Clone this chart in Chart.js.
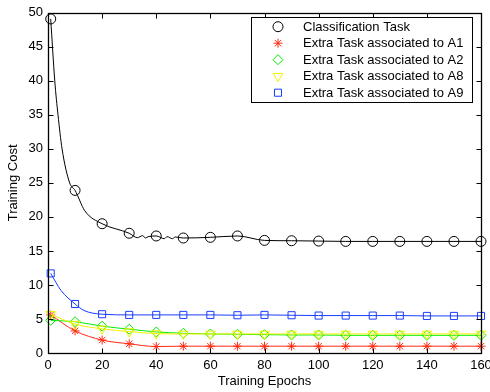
<!DOCTYPE html>
<html>
<head>
<meta charset="utf-8">
<script src="https://cdn.jsdelivr.net/npm/chart.js@4"></script>
<style>
html,body{margin:0;padding:0;background:#fff;}
#wrap{width:490px;height:392px;}
</style>
</head>
<body>
<div id="wrap"><canvas id="myChart"></canvas></div>
<script>
// marker epochs
const epochs=[1,10,20,30,40,50,60,70,80,90,100,110,120,130,140,150,160];
const classCost=[49.1,23.9,19.0,17.6,17.2,16.9,17.0,17.2,16.55,16.5,16.45,16.4,16.4,16.4,16.4,16.4,16.4];
const a1Cost=[5.6,3.25,1.9,1.35,0.95,1.0,1.0,1.0,1.0,1.0,1.0,1.0,1.0,1.0,1.0,1.0,1.0];
const a2Cost=[4.8,4.6,3.95,3.5,3.1,2.9,2.8,2.75,2.7,2.65,2.65,2.6,2.6,2.6,2.6,2.6,2.6];
const a8Cost=[5.7,4.25,3.55,3.15,2.85,2.8,2.8,2.8,2.8,2.8,2.8,2.8,2.8,2.8,2.8,2.8,2.8];
const a9Cost=[11.7,7.2,5.7,5.6,5.6,5.6,5.6,5.55,5.6,5.55,5.5,5.5,5.5,5.5,5.45,5.45,5.45];
// unmarked points of the curves read between markers
const classExtraEpochs=[2.5,3.7,5.2,8,13.6,33,35,36,37,43,44,46,47];
const classExtraCost=[40,35,30,25,20.9,16.95,17.25,16.9,17.1,16.8,17.1,16.8,17.05];
const a9ExtraEpochs=[4.8,13.3];
const a9ExtraCost=[9.2,6.25];

const xTicks={min:0,max:160,step:20};
const yTicks={min:0,max:50,step:5};

function pts(vals,extraX,extraY){
    let p=epochs.map(function(e,i){return {x:e,y:vals[i]};});
    if(extraX){
        p=p.concat(extraX.map(function(e,i){return {x:e,y:extraY[i]};}));
    }
    return p.sort(function(a,b){return a.x-b.x;});
}
function isMarker(x){return x===1 || x%10===0;}

const FONT='"Liberation Sans", Arial, Helvetica, sans-serif';

const series=[
    {label:'Classification Task',data:pts(classCost,classExtraEpochs,classExtraCost),color:'#000000',style:'circle',r:5,rot:0,order:5},
    {label:'Extra Task associated to A1',data:pts(a1Cost),color:'#ff2a10',style:'star',r:4.5,rot:0,order:4},
    {label:'Extra Task associated to A2',data:pts(a2Cost),color:'#00ee00',style:'rectRot',r:5,rot:0,order:3},
    {label:'Extra Task associated to A8',data:pts(a8Cost),color:'#f2f200',style:'triangle',r:5.5,rot:180,order:2},
    {label:'Extra Task associated to A9',data:pts(a9Cost,a9ExtraEpochs,a9ExtraCost),color:'#1a3cff',style:'rect',r:5,rot:0,order:1}
];

const frame={
    id:'frame',
    afterDatasetsDraw:function(chart){
        const c=chart.ctx, a=chart.chartArea;
        const xs=chart.scales.x, ys=chart.scales.y;
        const L=Math.round(a.left)+0.5, R=Math.round(a.right)+0.5, T=Math.round(a.top)+0.5, B=Math.round(a.bottom)+0.5;
        c.save();
        c.strokeStyle='#000';
        c.lineWidth=1;
        c.beginPath();
        xs.ticks.forEach(function(t){
            const px=Math.round(xs.getPixelForValue(t.value))+0.5;
            c.moveTo(px,B);c.lineTo(px,B-5);
            c.moveTo(px,T);c.lineTo(px,T+5);
        });
        ys.ticks.forEach(function(t){
            const py=Math.round(ys.getPixelForValue(t.value))+0.5;
            c.moveTo(L,py);c.lineTo(L+5,py);
            c.moveTo(R,py);c.lineTo(R-5,py);
        });
        c.stroke();
        c.lineWidth=1.3;
        c.strokeRect(L,T,R-L,B-T);
        c.restore();
    },
    afterDraw:function(chart){
        const c=chart.ctx;
        c.save();
        c.fillStyle='#fff';
        c.fillRect(251.5,17.5,221,85);
        c.strokeStyle='#000';
        c.lineWidth=1;
        c.strokeRect(251.5,17.5,221,85);
        c.font='13px '+FONT;
        c.textBaseline='middle';
        series.forEach(function(s,i){
            const y=26.7+i*16.5;
            c.strokeStyle=s.color;
            c.fillStyle='rgba(0,0,0,0)';
            c.lineWidth=1;
            Chart.helpers.drawPoint(c,{pointStyle:s.style,radius:s.r,rotation:s.rot,borderWidth:1},278,y);
            c.fillStyle='#000';
            c.fillText(s.label,303,y+0.5);
        });
        c.restore();
    }
};

const ctx=document.getElementById('myChart').getContext('2d');
window.myChart=new Chart(ctx,{
    type:'line',
    data:{
        datasets:series.map(function(s){
            return {
                label:s.label,
                data:s.data,
                order:s.order,
                borderColor:s.color,
                backgroundColor:'rgba(0,0,0,0)',
                pointBorderColor:s.color,
                pointBackgroundColor:'rgba(0,0,0,0)',
                pointStyle:s.style,
                pointRotation:s.rot,
                pointBorderWidth:1,
                pointRadius:function(c){return c.raw && isMarker(c.raw.x)?s.r:0;},
                pointHoverRadius:function(c){return c.raw && isMarker(c.raw.x)?s.r:0;},
                borderWidth:1,
                cubicInterpolationMode:'monotone',
                fill:false,
                clip:false
            };
        })
    },
    options:{
        responsive:true,
        maintainAspectRatio:false,
        animation:false,
        events:[],
        layout:{padding:{left:0,right:9,top:10,bottom:0}},
        plugins:{legend:{display:false},tooltip:{enabled:false}},
        scales:{
            x:{
                type:'linear',
                min:xTicks.min,max:xTicks.max,
                grid:{display:false,drawTicks:false,tickLength:0},
                border:{display:false},
                ticks:{stepSize:xTicks.step,color:'#000',font:{family:FONT,size:13},padding:5,maxRotation:0},
                title:{display:true,text:'Training Epochs',color:'#000',font:{family:FONT,size:13},padding:{top:0,bottom:3}},
                afterFit:function(s){s.height=39;s.paddingLeft=0;s.paddingRight=0;}
            },
            y:{
                min:yTicks.min,max:yTicks.max,
                grid:{display:false,drawTicks:false,tickLength:0},
                border:{display:false},
                ticks:{stepSize:yTicks.step,color:'#000',font:{family:FONT,size:13},padding:5},
                title:{display:true,text:'Training Cost',color:'#000',font:{family:FONT,size:13},padding:{top:6,bottom:0}},
                afterFit:function(s){s.width=48;}
            }
        }
    },
    plugins:[frame]
});
</script>
</body>
</html>
